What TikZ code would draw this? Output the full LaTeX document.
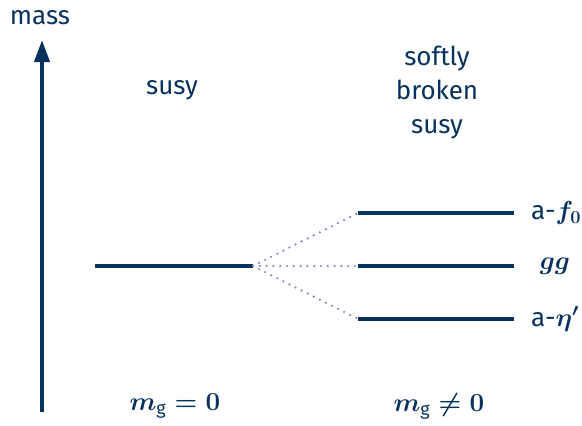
\RequirePackage{fix-cm}
\documentclass[tikz,border=0pt]{standalone}
\usepackage[no-math]{fontspec}
\setmainfont{Fira Sans}
\usetikzlibrary{arrows.meta}
\definecolor{navy}{RGB}{8,50,94}
\definecolor{dotc}{RGB}{125,135,180}
\newcommand{\subg}{\mbox{\fontsize{18}{20}\selectfont g}}
\begin{document}
\begin{tikzpicture}[x=1pt,y=-1pt,
  lvl/.style={draw=navy,line width=3.5pt},
  split/.style={draw=dotc,line width=2.4pt,dash pattern=on 0pt off 6.8pt,line cap=round},
  lab/.style={text=navy,font=\fontsize{26}{34}\selectfont,inner sep=0pt},
  mlab/.style={lab,font=\fontsize{26}{34}\selectfont\boldmath},
  axis/.style={draw=navy,line width=4pt,-{Triangle[length=22pt,width=15pt]}}]
\useasboundingbox (0,0) rectangle (582,426);
\coordinate (a0) at (42,412);
\coordinate (a1) at (42,40);
\draw[axis] (a0) -- (a1);
\node[lab] (mass) at (40,18) {mass};
\node[lab] (susy) at (172,90) {susy};
\node[lab,align=center] (sb) at (437,93) {softly\\broken\\susy};
\coordinate (L0) at (95,266);
\coordinate (L1) at (253,266);
\coordinate (U0) at (358,213);
\coordinate (U1) at (514,213);
\coordinate (M0) at (358,266);
\coordinate (M1) at (514,266);
\coordinate (D0) at (358,319);
\coordinate (D1) at (514,319);
\draw[lvl] (L0) -- (L1);
\draw[lvl] (U0) -- (U1);
\draw[lvl] (M0) -- (M1);
\draw[lvl] (D0) -- (D1);
\draw[split] (L1) -- (U0);
\draw[split] (L1) -- (M0);
\draw[split] (L1) -- (D0);
\node[mlab,anchor=west] (f0) at (531,213) {a-$f_0$};
\node[mlab] (gg) at (555,266) {$gg$};
\node[mlab,anchor=west] (eta) at (531,319) {a-$\eta'$};
\node[mlab] (m0) at (175,406) {$m_{\subg}=0$};
\node[mlab] (m1) at (439,406) {$m_{\subg}\neq0$};
\end{tikzpicture}
\end{document}
